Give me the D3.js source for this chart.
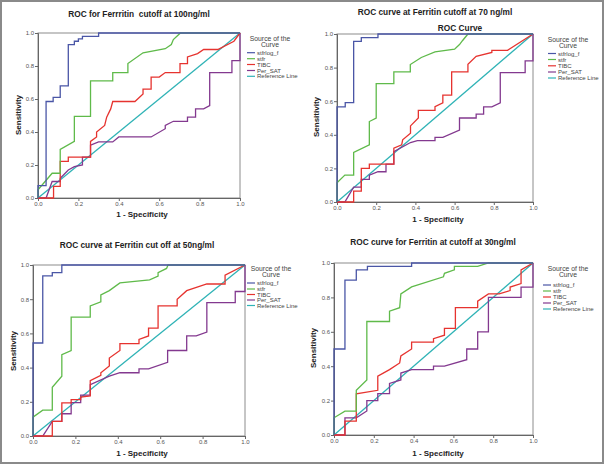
<!DOCTYPE html>
<html><head><meta charset="utf-8">
<script src="https://cdn.jsdelivr.net/npm/d3@7"></script>
<style>body{margin:0;background:#fff}svg{display:block}text{font-family:"Liberation Sans",Arial,sans-serif;white-space:pre}</style>
</head><body>
<svg id="c" width="605" height="466"></svg>
<script>
// ---- data ----
const seriesNames = ["stfrlog_f", "stfr", "TIBC", "Per_SAT", "Reference Line"];
const titles = ["ROC for Ferrritin  cutoff at 100ng/ml", "ROC curve at Ferritin cutoff at 70 ng/ml", "ROC curve at Ferritin cut off at 50ng/ml", "ROC curve for Ferritin at cutoff at 30ng/ml"];
const ticks = [0, 0.2, 0.4, 0.6, 0.8, 1.0];
const referenceLine = [[0,0],[1,1]];

// cutoff 100 ng/ml
const c100_stfrlog = [[0,0],[0,0.075],[0.04,0.075],[0.04,0.585],[0.075,0.585],[0.075,0.61],[0.11,0.61],[0.11,0.68],[0.15,0.68],[0.15,0.93],[0.18,0.93],[0.18,0.95],[0.2,0.95],[0.2,0.965],[0.22,0.965],[0.22,0.98],[0.3,0.98],[0.3,1],[1,1]];
const c100_stfr = [[0,0],[0,0.05],[0.07,0.15],[0.11,0.15],[0.11,0.295],[0.18,0.343],[0.18,0.495],[0.26,0.495],[0.26,0.71],[0.37,0.71],[0.37,0.76],[0.445,0.76],[0.445,0.815],[0.52,0.88],[0.63,0.905],[0.66,0.93],[0.67,0.96],[0.705,1],[1,1]];
const c100_tibc = [[0,0],[0.077,0],[0.077,0.07],[0.11,0.07],[0.11,0.222],[0.15,0.222],[0.15,0.248],[0.26,0.248],[0.26,0.343],[0.29,0.37],[0.29,0.4],[0.33,0.44],[0.34,0.49],[0.36,0.54],[0.37,0.585],[0.48,0.585],[0.52,0.63],[0.52,0.66],[0.56,0.66],[0.56,0.733],[0.6,0.733],[0.63,0.76],[0.703,0.76],[0.703,0.814],[0.74,0.814],[0.74,0.855],[0.79,0.875],[0.82,0.9],[0.89,0.9],[0.97,0.95],[1,1]];
const c100_persat = [[0,0],[0.04,0],[0.07,0.1],[0.11,0.1],[0.11,0.12],[0.15,0.17],[0.18,0.19],[0.22,0.2],[0.22,0.248],[0.26,0.248],[0.26,0.32],[0.3,0.34],[0.37,0.34],[0.4,0.37],[0.56,0.37],[0.63,0.42],[0.63,0.44],[0.67,0.465],[0.74,0.465],[0.74,0.49],[0.78,0.49],[0.78,0.54],[0.82,0.54],[0.85,0.56],[0.85,0.76],[0.96,0.76],[0.96,0.832],[1,0.832],[1,1]];

// cutoff 70 ng/ml
const c70_stfrlog = [[0,0],[0,0.566],[0.042,0.566],[0.042,0.592],[0.085,0.592],[0.085,0.956],[0.124,0.956],[0.124,0.978],[0.209,0.978],[0.209,1],[1,1]];
const c70_stfr = [[0,0],[0,0.115],[0.04,0.16],[0.085,0.16],[0.085,0.295],[0.165,0.34],[0.165,0.479],[0.2,0.5],[0.2,0.705],[0.29,0.705],[0.29,0.774],[0.374,0.774],[0.374,0.818],[0.43,0.86],[0.5,0.893],[0.6,0.91],[0.625,0.937],[0.64,0.96],[0.668,1],[1,1]];
const c70_tibc = [[0,0],[0.085,0],[0.085,0.065],[0.124,0.065],[0.124,0.2],[0.165,0.2],[0.165,0.226],[0.29,0.226],[0.29,0.32],[0.33,0.34],[0.335,0.37],[0.375,0.41],[0.375,0.453],[0.415,0.5],[0.415,0.545],[0.5,0.545],[0.5,0.568],[0.54,0.59],[0.54,0.636],[0.585,0.636],[0.585,0.774],[0.668,0.774],[0.668,0.82],[0.71,0.867],[0.79,0.89],[0.79,0.903],[0.87,0.903],[1,1]];
const c70_persat = [[0,0],[0.04,0],[0.085,0.089],[0.124,0.089],[0.124,0.135],[0.165,0.135],[0.165,0.16],[0.209,0.18],[0.25,0.18],[0.25,0.226],[0.29,0.226],[0.29,0.3],[0.375,0.354],[0.41,0.365],[0.5,0.365],[0.5,0.385],[0.54,0.385],[0.625,0.428],[0.625,0.5],[0.71,0.5],[0.71,0.523],[0.748,0.523],[0.748,0.566],[0.79,0.566],[0.833,0.59],[0.833,0.77],[0.96,0.77],[0.96,0.84],[1,0.84],[1,1]];

// cutoff 50 ng/ml
const c50_stfrlog = [[0,0],[0,0.544],[0.046,0.544],[0.046,0.936],[0.091,0.936],[0.091,0.955],[0.136,0.955],[0.136,1],[1,1]];
const c50_stfr = [[0,0],[0,0.11],[0.046,0.151],[0.091,0.151],[0.091,0.285],[0.136,0.35],[0.136,0.476],[0.18,0.5],[0.18,0.695],[0.27,0.695],[0.27,0.761],[0.32,0.785],[0.32,0.825],[0.36,0.85],[0.41,0.895],[0.55,0.913],[0.59,0.935],[0.59,0.955],[0.63,0.98],[0.637,1],[1,1]];
const c50_tibc = [[0,0],[0.091,0],[0.091,0.085],[0.136,0.085],[0.136,0.194],[0.18,0.194],[0.18,0.213],[0.225,0.213],[0.225,0.228],[0.27,0.235],[0.27,0.324],[0.32,0.355],[0.32,0.37],[0.36,0.41],[0.36,0.456],[0.41,0.5],[0.41,0.54],[0.5,0.54],[0.5,0.565],[0.545,0.585],[0.545,0.631],[0.59,0.631],[0.59,0.761],[0.68,0.761],[0.68,0.8],[0.725,0.85],[0.82,0.889],[0.906,0.889],[0.906,0.94],[1,1]];
const c50_persat = [[0,0],[0.046,0],[0.091,0.085],[0.136,0.085],[0.136,0.13],[0.18,0.13],[0.18,0.195],[0.225,0.195],[0.225,0.239],[0.27,0.239],[0.27,0.3],[0.36,0.35],[0.41,0.37],[0.5,0.37],[0.5,0.392],[0.545,0.392],[0.635,0.431],[0.635,0.5],[0.725,0.5],[0.725,0.586],[0.77,0.586],[0.82,0.608],[0.82,0.78],[0.954,0.78],[0.954,0.845],[1,0.845],[1,1]];

// cutoff 30 ng/ml
const c30_stfrlog = [[0,0],[0,0.5],[0.055,0.5],[0.055,0.9],[0.112,0.9],[0.112,0.96],[0.168,0.96],[0.168,0.98],[0.39,0.98],[0.39,1],[1,1]];
const c30_stfr = [[0,0],[0,0.1],[0.055,0.139],[0.112,0.139],[0.112,0.26],[0.165,0.32],[0.165,0.66],[0.279,0.66],[0.279,0.72],[0.33,0.74],[0.336,0.82],[0.39,0.861],[0.55,0.92],[0.555,0.94],[0.605,0.96],[0.605,0.98],[0.722,0.98],[0.776,1],[1,1]];
const c30_tibc = [[0,0],[0.055,0],[0.055,0.081],[0.112,0.081],[0.112,0.239],[0.22,0.26],[0.22,0.342],[0.279,0.38],[0.33,0.419],[0.336,0.46],[0.39,0.5],[0.39,0.54],[0.5,0.54],[0.5,0.56],[0.555,0.58],[0.555,0.62],[0.61,0.62],[0.61,0.74],[0.722,0.74],[0.722,0.778],[0.776,0.82],[0.83,0.82],[0.885,0.84],[0.885,0.86],[0.94,0.88],[0.94,0.96],[1,1]];
const c30_persat = [[0,0],[0.055,0],[0.055,0.1],[0.112,0.1],[0.165,0.14],[0.165,0.2],[0.22,0.2],[0.22,0.24],[0.279,0.24],[0.279,0.3],[0.336,0.32],[0.336,0.36],[0.39,0.38],[0.5,0.38],[0.5,0.4],[0.555,0.4],[0.667,0.438],[0.667,0.5],[0.722,0.5],[0.722,0.6],[0.776,0.6],[0.776,0.8],[0.94,0.8],[0.94,0.86],[1,0.86],[1,1]];

const panelData = [
  [c100_stfrlog, c100_stfr, c100_tibc, c100_persat, referenceLine],
  [c70_stfrlog, c70_stfr, c70_tibc, c70_persat, referenceLine],
  [c50_stfrlog, c50_stfr, c50_tibc, c50_persat, referenceLine],
  [c30_stfrlog, c30_stfr, c30_tibc, c30_persat, referenceLine]
];

// ---- layout / style ----
const colors = ["#4a56a6", "#5fba4a", "#e6332f", "#83398f", "#2fb3b6"];
const layout = [
  {x0:38, x1:240, y0:33, y1:198, tx:139, ty:17, xl:[142,217], yl:[18,115], lg:[270,39], lgy:[52.7,58.7,64.5,70.5,76.3], lgx:247, sub:null},
  {x0:337, x1:533, y0:34, y1:202, tx:435, ty:15, xl:[438,222], yl:[316,117], lg:[568,40], lgy:[53.5,59.5,65.8,72,78], lgx:548, sub:[460,31]},
  {x0:33, x1:245, y0:265, y1:436, tx:137, ty:248, xl:[142,456], yl:[13,351], lg:[271,269], lgy:[283,289,294.5,300,305.5], lgx:247, sub:null},
  {x0:334, x1:533, y0:263, y1:435, tx:433, ty:245, xl:[438,456], yl:[313,348], lg:[568,269], lgy:[285,291,297,303,309], lgx:543, sub:null}
];

const svg = d3.select("#c");
svg.append("rect").attr("x",1).attr("y",1).attr("width",602).attr("height",462)
  .attr("fill","#fff").attr("stroke","#8a8a8a").attr("stroke-width",2);

layout.forEach((L, i) => {
  const g = svg.append("g");
  const x = d3.scaleLinear().domain([0,1]).range([L.x0, L.x1]);
  const y = d3.scaleLinear().domain([0,1]).range([L.y1, L.y0]);

  g.append("text").attr("x",L.tx).attr("y",L.ty).attr("text-anchor","middle")
    .attr("font-size",8.3).attr("font-weight","bold").attr("fill","#222").text(titles[i]);
  if (L.sub) g.append("text").attr("x",L.sub[0]).attr("y",L.sub[1]).attr("text-anchor","middle")
    .attr("font-size",8.3).attr("font-weight","bold").attr("fill","#222").text("ROC Curve");

  // frame
  g.append("rect").attr("x",L.x0).attr("y",L.y0).attr("width",L.x1-L.x0).attr("height",L.y1-L.y0)
    .attr("fill","none").attr("stroke","#8c8c8c").attr("stroke-width",1);

  const xa = g.append("g").attr("transform",`translate(0,${L.y1})`)
    .call(d3.axisBottom(x).tickValues(ticks).tickFormat(d3.format(".1f")).tickSize(3).tickPadding(1));
  const ya = g.append("g").attr("transform",`translate(${L.x0},0)`)
    .call(d3.axisLeft(y).tickValues(ticks).tickFormat(d3.format(".1f")).tickSize(3).tickPadding(1));
  [xa, ya].forEach(a => {
    a.select(".domain").attr("stroke","#666");
    a.selectAll(".tick line").attr("stroke","#666");
    a.selectAll(".tick text").attr("font-size",6).attr("fill","#555").attr("font-family","Liberation Sans, Arial, sans-serif");
  });

  g.append("text").attr("x",L.xl[0]).attr("y",L.xl[1]).attr("text-anchor","middle")
    .attr("font-size",8).attr("font-weight","bold").attr("fill","#222").text("1 - Specificity");
  g.append("text").attr("transform",`translate(${L.yl[0]},${L.yl[1]}) rotate(-90)`).attr("text-anchor","middle")
    .attr("dy","0.35em").attr("font-size",8).attr("font-weight","bold").attr("fill","#222").text("Sensitivity");

  const line = d3.line().x(d => x(d[0])).y(d => y(d[1]));
  const order = [4, 3, 2, 1, 0];
  order.forEach(k => {
    g.append("path").datum(panelData[i][k]).attr("d", line).attr("fill","none")
      .attr("stroke", colors[k]).attr("stroke-width",1.3).attr("stroke-linejoin","miter");
  });

  // legend
  g.append("text").attr("x",L.lg[0]).attr("y",L.lg[1]).attr("text-anchor","middle").attr("dy","0.35em")
    .attr("font-size",6.8).attr("fill","#444").text("Source of the");
  g.append("text").attr("x",L.lg[0]).attr("y",L.lg[1]+5.5).attr("text-anchor","middle").attr("dy","0.35em")
    .attr("font-size",6.8).attr("fill","#444").text("Curve");
  seriesNames.forEach((n, k) => {
    g.append("line").attr("x1",L.lgx).attr("x2",L.lgx+8).attr("y1",L.lgy[k]).attr("y2",L.lgy[k])
      .attr("stroke",colors[k]).attr("stroke-width",1.2);
    g.append("text").attr("x",L.lgx+10).attr("y",L.lgy[k]).attr("dy","0.35em")
      .attr("font-size",6).attr("fill","#444").text(n);
  });
});
</script>
</body></html>
